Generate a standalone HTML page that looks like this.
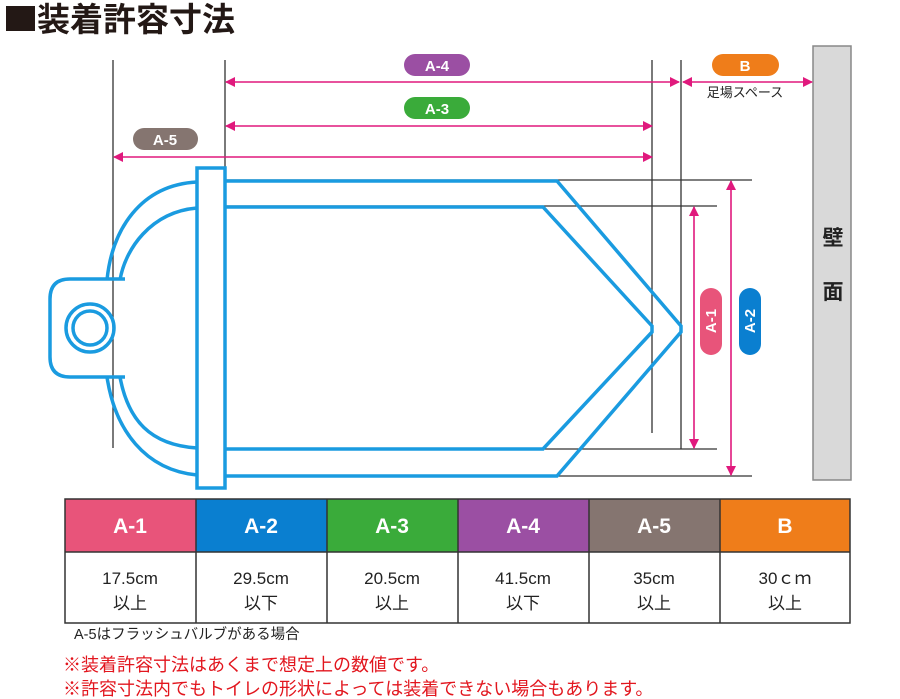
<!DOCTYPE html>
<html><head><meta charset="utf-8"><style>
body{margin:0;width:900px;height:699px;background:#fff;overflow:hidden;font-family:"Liberation Sans","Noto Sans CJK JP",sans-serif;position:relative}
</style></head><body>
<svg width="900" height="699" style="position:absolute;left:0;top:0">
<defs>
<marker id="ah" markerWidth="10" markerHeight="10" refX="9" refY="5" orient="auto-start-reverse" markerUnits="userSpaceOnUse"><path d="M0,0 L10,5 L0,10 Z" fill="#e0197d"/></marker>
</defs>
<rect x="6" y="6" width="29" height="25" fill="#231815"/>
<text x="37" y="31" font-size="33" font-weight="bold" fill="#231815" font-family="Liberation Sans,Noto Sans CJK JP,sans-serif">装着許容寸法</text>
<rect x="813" y="46" width="38" height="434" fill="#d9d9d9" stroke="#888" stroke-width="1.5"/>
<text x="833" y="245" font-size="21" font-weight="bold" text-anchor="middle" fill="#222" font-family="Noto Sans CJK JP,sans-serif">壁</text>
<text x="833" y="299" font-size="21" font-weight="bold" text-anchor="middle" fill="#222" font-family="Noto Sans CJK JP,sans-serif">面</text>
<g stroke="#333" stroke-width="1.3">
<line x1="113" y1="60" x2="113" y2="448"/>
<line x1="225" y1="60" x2="225" y2="480"/>
<line x1="652" y1="60" x2="652" y2="433"/>
<line x1="681" y1="60" x2="681" y2="449"/>
<line x1="225" y1="180" x2="752" y2="180"/>
<line x1="225" y1="206" x2="717" y2="206"/>
<line x1="225" y1="449" x2="717" y2="449"/>
<line x1="225" y1="476" x2="752" y2="476"/>
</g>
<g fill="none" stroke="#1a9be0" stroke-width="3.5">
<path d="M225,181 L557,181 L681,326 L681,332 L557,476 L225,476"/>
<path d="M225,207 L543,207 L652,326 L652,332 L543,449 L225,449"/>
<path d="M197,182 C140,185 112,230 107,280 M107,377 C115,430 145,470 197,475"/>
<path d="M197,208 C150,212 125,250 120,280 M120,377 C128,420 150,445 197,448"/>
<path d="M125,279 L70,279 Q50,279 50,299 L50,357 Q50,377 70,377 L125,377"/>
<circle cx="90" cy="328" r="24"/>
<circle cx="90" cy="328" r="17"/>
<rect x="197" y="168" width="28" height="320" fill="#fff"/>
</g>
<g stroke="#e0197d" stroke-width="1.6" fill="none">
<line x1="226" y1="82" x2="679" y2="82" marker-start="url(#ah)" marker-end="url(#ah)"/>
<line x1="683" y1="82" x2="812" y2="82" marker-start="url(#ah)" marker-end="url(#ah)"/>
<line x1="226" y1="126" x2="652" y2="126" marker-start="url(#ah)" marker-end="url(#ah)"/>
<line x1="114" y1="157" x2="652" y2="157" marker-start="url(#ah)" marker-end="url(#ah)"/>
<line x1="694" y1="207" x2="694" y2="448" marker-start="url(#ah)" marker-end="url(#ah)"/>
<line x1="731" y1="181" x2="731" y2="475" marker-start="url(#ah)" marker-end="url(#ah)"/>
</g>
<g font-size="15" font-weight="bold" fill="#fff" text-anchor="middle">
<rect x="404" y="54" width="66" height="22" rx="11" fill="#9b4fa3"/><text x="437" y="71">A-4</text>
<rect x="404" y="97" width="66" height="22" rx="11" fill="#3aab3a"/><text x="437" y="114">A-3</text>
<rect x="133" y="128" width="65" height="22" rx="11" fill="#857570"/><text x="165" y="145">A-5</text>
<rect x="712" y="54" width="67" height="22" rx="11" fill="#ef7d1a"/><text x="745" y="71">B</text>
<rect x="700" y="288" width="22" height="67" rx="11" fill="#e8547a"/><text transform="translate(716,321) rotate(-90)">A-1</text>
<rect x="739" y="288" width="22" height="67" rx="11" fill="#0a7fd0"/><text transform="translate(755,321) rotate(-90)">A-2</text>
</g>
<text x="745" y="97" font-size="13" text-anchor="middle" fill="#222" font-family="Noto Sans CJK JP,sans-serif">足場スペース</text>
<g font-size="21" font-weight="bold" fill="#fff" text-anchor="middle">
<rect x="65" y="499" width="131" height="53" fill="#e8547a"/><text x="130" y="533">A-1</text>
<rect x="196" y="499" width="131" height="53" fill="#0a7fd0"/><text x="261" y="533">A-2</text>
<rect x="327" y="499" width="131" height="53" fill="#3aab3a"/><text x="392" y="533">A-3</text>
<rect x="458" y="499" width="131" height="53" fill="#9b4fa3"/><text x="523" y="533">A-4</text>
<rect x="589" y="499" width="131" height="53" fill="#857570"/><text x="654" y="533">A-5</text>
<rect x="720" y="499" width="130" height="53" fill="#ef7d1a"/><text x="785" y="533">B</text>
</g>
<g stroke="#333" stroke-width="1.5" fill="none">
<rect x="65" y="499" width="785" height="124"/>
<line x1="65" y1="552" x2="850" y2="552"/>
<line x1="196" y1="499" x2="196" y2="623"/><line x1="327" y1="499" x2="327" y2="623"/>
<line x1="458" y1="499" x2="458" y2="623"/><line x1="589" y1="499" x2="589" y2="623"/>
<line x1="720" y1="499" x2="720" y2="623"/>
</g>
<g font-size="17" fill="#222" text-anchor="middle" font-family="Liberation Sans,Noto Sans CJK JP,sans-serif">
<text x="130" y="584">17.5cm</text><text x="130" y="609">以上</text>
<text x="261" y="584">29.5cm</text><text x="261" y="609">以下</text>
<text x="392" y="584">20.5cm</text><text x="392" y="609">以上</text>
<text x="523" y="584">41.5cm</text><text x="523" y="609">以下</text>
<text x="654" y="584">35cm</text><text x="654" y="609">以上</text>
<text x="785" y="584">30ｃｍ</text><text x="785" y="609">以上</text>
</g>
<text x="74" y="639" font-size="14.5" fill="#222" font-family="Liberation Sans,Noto Sans CJK JP,sans-serif">A-5はフラッシュバルブがある場合</text>
<text x="63" y="671" font-size="18" fill="#e2161e" font-family="Liberation Sans,Noto Sans CJK JP,sans-serif">※装着許容寸法はあくまで想定上の数値です。</text>
<text x="63" y="695" font-size="18" fill="#e2161e" font-family="Liberation Sans,Noto Sans CJK JP,sans-serif">※許容寸法内でもトイレの形状によっては装着できない場合もあります。</text>
</svg>
</body></html>
